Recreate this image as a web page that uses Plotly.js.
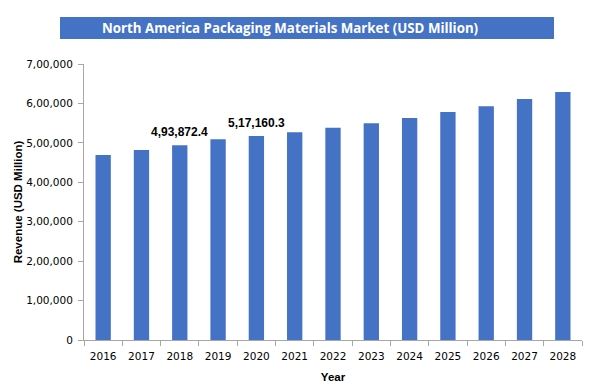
<!DOCTYPE html>
<html>
<head>
<meta charset="utf-8">
<script src="https://cdn.plot.ly/plotly-3.0.1.min.js"></script>
<style>html,body{margin:0;padding:0;background:#fff;}#chart{width:614px;height:392px;}</style>
</head>
<body>
<div id="chart"></div>
<script>
const years = ["2016","2017","2018","2019","2020","2021","2022","2023","2024","2025","2026","2027","2028"];
const revenue = [469000, 482000, 493872.4, 509000, 517160.3, 527000, 538000, 550000, 563000, 578000, 593000, 611000, 629000];
const labelYears = ["2018", "2020"];
const labelTexts = ["4,93,872.4", "5,17,160.3"];
const yTickVals = [0, 100000, 200000, 300000, 400000, 500000, 600000, 700000];
const yTickText = ["0", "1,00,000", "2,00,000", "3,00,000", "4,00,000", "5,00,000", "6,00,000", "7,00,000"];
const chartTitle = "North America Packaging Materials Market (USD Million)";

const annotations = labelYears.map((yr, i) => ({
  x: years.indexOf(yr), y: revenue[years.indexOf(yr)], xref: 'x', yref: 'y',
  text: labelTexts[i], showarrow: false, yshift: 13,
  font: {family: 'Liberation Sans, Arial, sans-serif', size: 12, color: '#000', weight: 'bold'}
}));
annotations.push({
  xref: 'paper', yref: 'paper', x: (290 - 84) / 498, y: 1, yshift: 64 - 28, xanchor: 'center', yanchor: 'middle',
  text: '<b>' + chartTitle + '</b>', showarrow: false,
  font: {family: 'Open Sans, Liberation Sans, sans-serif', size: 13.3, color: '#fff'}
});

const layout = {
  width: 614, height: 392,
  margin: {l: 84, r: 32, t: 64, b: 52},
  paper_bgcolor: '#fff', plot_bgcolor: '#fff',
  showlegend: false,
  bargap: 0.6,
  shapes: [{
    type: 'rect', xref: 'paper', yref: 'paper',
    x0: (60 - 84) / 498, x1: (554 - 84) / 498,
    y0: 1 + (64 - 39) / 276, y1: 1 + (64 - 17) / 276,
    fillcolor: '#4472C4', line: {width: 0}, layer: 'below'
  }],
  annotations: annotations,
  xaxis: {
    type: 'category', range: [-0.5, years.length - 0.5], autorange: false,
    showline: true, linecolor: '#A6A6A6', linewidth: 1,
    ticks: 'outside', tickson: 'boundaries', ticklen: 5, tickcolor: '#A6A6A6',
    tickangle: 0, ticklabelstandoff: 6,
    tickfont: {family: 'DejaVu Sans, sans-serif', size: 10.5, color: '#000'},
    showgrid: false, automargin: false,
    title: {text: '<b>Year</b>', font: {family: 'Liberation Sans, Arial, sans-serif', size: 11.5, color: '#000'}, standoff: 12}
  },
  yaxis: {
    range: [0, 700000], autorange: false,
    tickvals: yTickVals, ticktext: yTickText,
    showline: true, linecolor: '#A6A6A6', linewidth: 1,
    ticks: 'outside', ticklen: 5, tickcolor: '#A6A6A6', ticklabelstandoff: 3,
    tickfont: {family: 'DejaVu Sans, sans-serif', size: 10.5, color: '#000'},
    showgrid: false, zeroline: false, automargin: false,
    title: {text: '<b>Revenue (USD Million)</b>', font: {family: 'Liberation Sans, Arial, sans-serif', size: 11.5, color: '#000'}, standoff: 1}
  }
};

Plotly.newPlot('chart', [{
  type: 'bar', x: years, y: revenue,
  marker: {color: '#4472C4'}, hoverinfo: 'skip'
}], layout, {staticPlot: true, displayModeBar: false});
</script>
</body>
</html>
